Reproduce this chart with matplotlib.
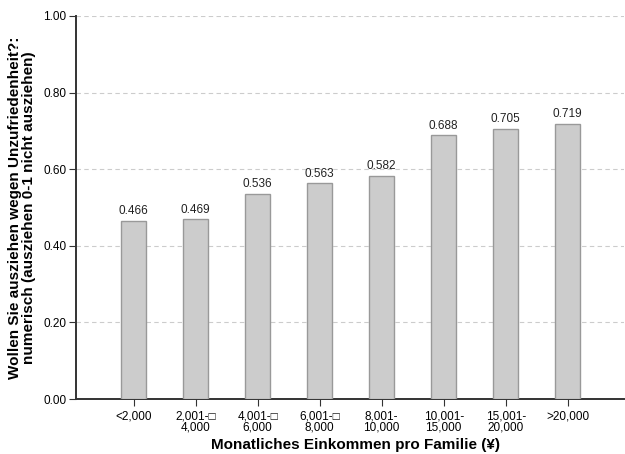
import numpy as np
import matplotlib.pyplot as plt

plt.rcParams['font.family'] = ['Liberation Sans', 'DejaVu Sans']

labels = ["<2,000", "2,001-\u25a1\n4,000", "4,001-\u25a1\n6,000", "6,001-\u25a1\n8,000",
          "8,001-\n10,000", "10,001-\n15,000", "15,001-\n20,000", ">20,000"]
values = [0.466, 0.469, 0.536, 0.563, 0.582, 0.688, 0.705, 0.719]
yticks = [0.0, 0.2, 0.4, 0.6, 0.8, 1.0]

fig = plt.figure(figsize=(6.25, 4.54), dpi=100)
ax = fig.add_axes([0.1216, 0.121, 0.876, 0.844])

x = np.arange(len(values))
ax.bar(x, values, width=0.4, color="#cccccc", edgecolor="#999999", lw=1, zorder=3)
for xi, v in zip(x, values):
    ax.text(xi, v + 0.01, f"{v:.3f}", ha="center", va="bottom", fontsize=8.5, color="#222222")

ax.set_xlim(-0.93, 7.9)
ax.set_ylim(0, 1.0)
ax.set_yticks(yticks)
ax.set_yticklabels([f"{t:.2f}" for t in yticks])
ax.set_xticks(x)
ax.set_xticklabels(labels, fontsize=8.5, linespacing=0.95)
ax.tick_params(axis="y", labelsize=8.5, length=5, color="#333333", pad=2)
ax.tick_params(axis="x", length=5, color="#333333", pad=3)
ax.yaxis.grid(True, ls=(0, (4, 3)), color="#cccccc", lw=0.8, zorder=0)

for s in ["top", "right"]:
    ax.spines[s].set_visible(False)
for s in ["left", "bottom"]:
    ax.spines[s].set_color("#333333")
    ax.spines[s].set_linewidth(1.4)

ax.set_xlabel("Monatliches Einkommen pro Familie (¥)", fontsize=11, fontweight="bold")
ax.xaxis.set_label_coords(0.51, -0.12, transform=ax.transAxes)
ax.xaxis.label.set_va("center")
ax.set_ylabel("Wollen Sie ausziehen wegen Unzufriedenheit?:\nnumerisch (ausziehen 0-1 nicht ausziehen)",
              fontsize=11, fontweight="bold", labelpad=5, linespacing=1.0)

plt.savefig("out.png", dpi=100)
